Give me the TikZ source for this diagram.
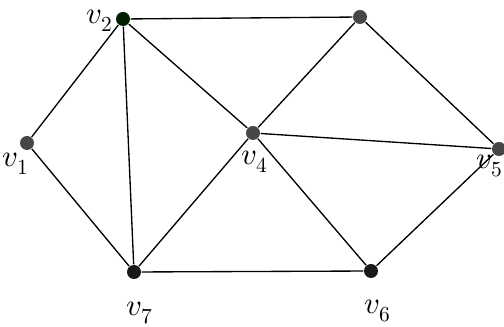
\documentclass[tikz,border=0pt]{standalone}
\usepackage{fontspec}
\setmainfont{Liberation Serif}
\usepackage{unicode-math}
\setmathfont{Latin Modern Math}

\tikzset{every picture/.style={line width=1pt}}
\tikzset{vert/.style={circle,fill=black!72,inner sep=0pt,minimum size=10.5pt},
         vlab/.style={font=\fontsize{23}{25}\selectfont,inner sep=0pt}}

\begin{document}
\begin{tikzpicture}[x=0.75pt,y=0.75pt,yscale=-1,xscale=1]
\useasboundingbox (0,0) rectangle (504,327);

%Vertices
\node [vert] (v1) at (27,143) {};
\node [vert,fill=black!80!green!60!black] (v2) at (123,19) {};
\node [vert] (v3) at (360,17) {};
\node [vert] (v4) at (253,133) {};
\node [vert] (v5) at (499,149) {};
\node [vert,fill=black!90] (v6) at (371,271) {};
\node [vert,fill=black!90] (v7) at (134,272) {};

%Edges
\draw (v1) -- (v2) ;
\draw (v1) -- (v7) ;
\draw (v2) -- (v3) ;
\draw (v2) -- (v4) ;
\draw (v2) -- (v7) ;
\draw (v3) -- (v4) ;
\draw (v3) -- (v5) ;
\draw (v4) -- (v5) ;
\draw (v4) -- (v6) ;
\draw (v4) -- (v7) ;
\draw (v7) -- (v6) ;
\draw (v6) -- (v5) ;

% Text Node
\node [vlab] (l1) at (16,164) {$v_1$};
\node [vlab] (l2) at (100,21) {$v_2$};
\node [vlab] (l4) at (255,162) {$v_4$};
\node [vlab] (l5) at (490,166) {$v_5$};
\node [vlab] (l6) at (378,311) {$v_6$};
\node [vlab] (l7) at (140,313) {$v_7$};
\end{tikzpicture}
\end{document}
